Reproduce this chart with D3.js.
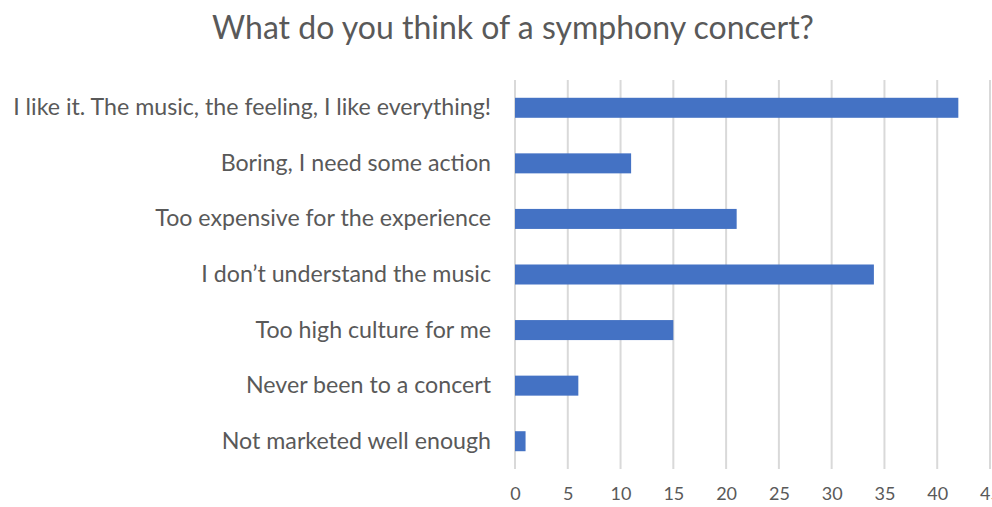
<!DOCTYPE html>
<html><head><meta charset="utf-8">
<script src="https://cdn.jsdelivr.net/npm/d3@7"></script>
<style>body{margin:0;background:#fff}svg{display:block}</style>
</head><body>
<svg id="chart" width="992" height="507"></svg>
<script>
const title = "What do you think of a symphony concert?";
const categories = [
  "I like it. The music, the feeling, I like everything!",
  "Boring, I need some action",
  "Too expensive for the experience",
  "I don\u2019t understand the music",
  "Too high culture for me",
  "Never been to a concert",
  "Not marketed well enough"
];
const values = [42, 11, 21, 34, 15, 6, 1];
const xTicks = [0, 5, 10, 15, 20, 25, 30, 35, 40, 45];

const svg = d3.select("#chart");
const font = "Lato, 'Open Sans', sans-serif";
const m = {left: 515, top: 80, bottom: 469};
const x = d3.scaleLinear().domain([0, 45]).range([m.left, 990]);
const y = d3.scaleBand().domain(categories).range([m.top, m.bottom]).paddingInner(0.64).paddingOuter(0.32);

svg.append("text").attr("x", 513).attr("y", 39).attr("text-anchor", "middle")
  .attr("font-family", font).attr("font-size", 32).attr("fill", "#595959").text(title);

// gridlines
svg.append("g").selectAll("line").data(xTicks).join("line")
  .attr("x1", d => x(d)).attr("x2", d => x(d)).attr("y1", m.top).attr("y2", m.bottom)
  .attr("stroke", "#d9d9d9").attr("stroke-width", 2);

// bars
svg.append("g").selectAll("rect").data(values).join("rect")
  .attr("x", x(0)).attr("y", (d, i) => y(categories[i]))
  .attr("width", d => x(d) - x(0)).attr("height", y.bandwidth())
  .attr("fill", "#4472c4");

// x axis
const xAxis = d3.axisBottom(x).tickValues(xTicks).tickSize(0).tickPadding(0);
const gx = svg.append("g").attr("transform", "translate(0,494)").call(xAxis);
gx.select(".domain").remove();
gx.selectAll("text").attr("font-family", font).attr("font-size", 18).attr("fill", "#595959").attr("dy", "0.35em");

// y axis
const yAxis = d3.axisLeft(y).tickSize(0).tickPadding(24);
const gy = svg.append("g").attr("transform", `translate(${m.left},0)`).call(yAxis);
gy.select(".domain").remove();
gy.selectAll("text").attr("font-family", font).attr("font-size", 23.2).attr("fill", "#595959");
</script>
</body></html>
